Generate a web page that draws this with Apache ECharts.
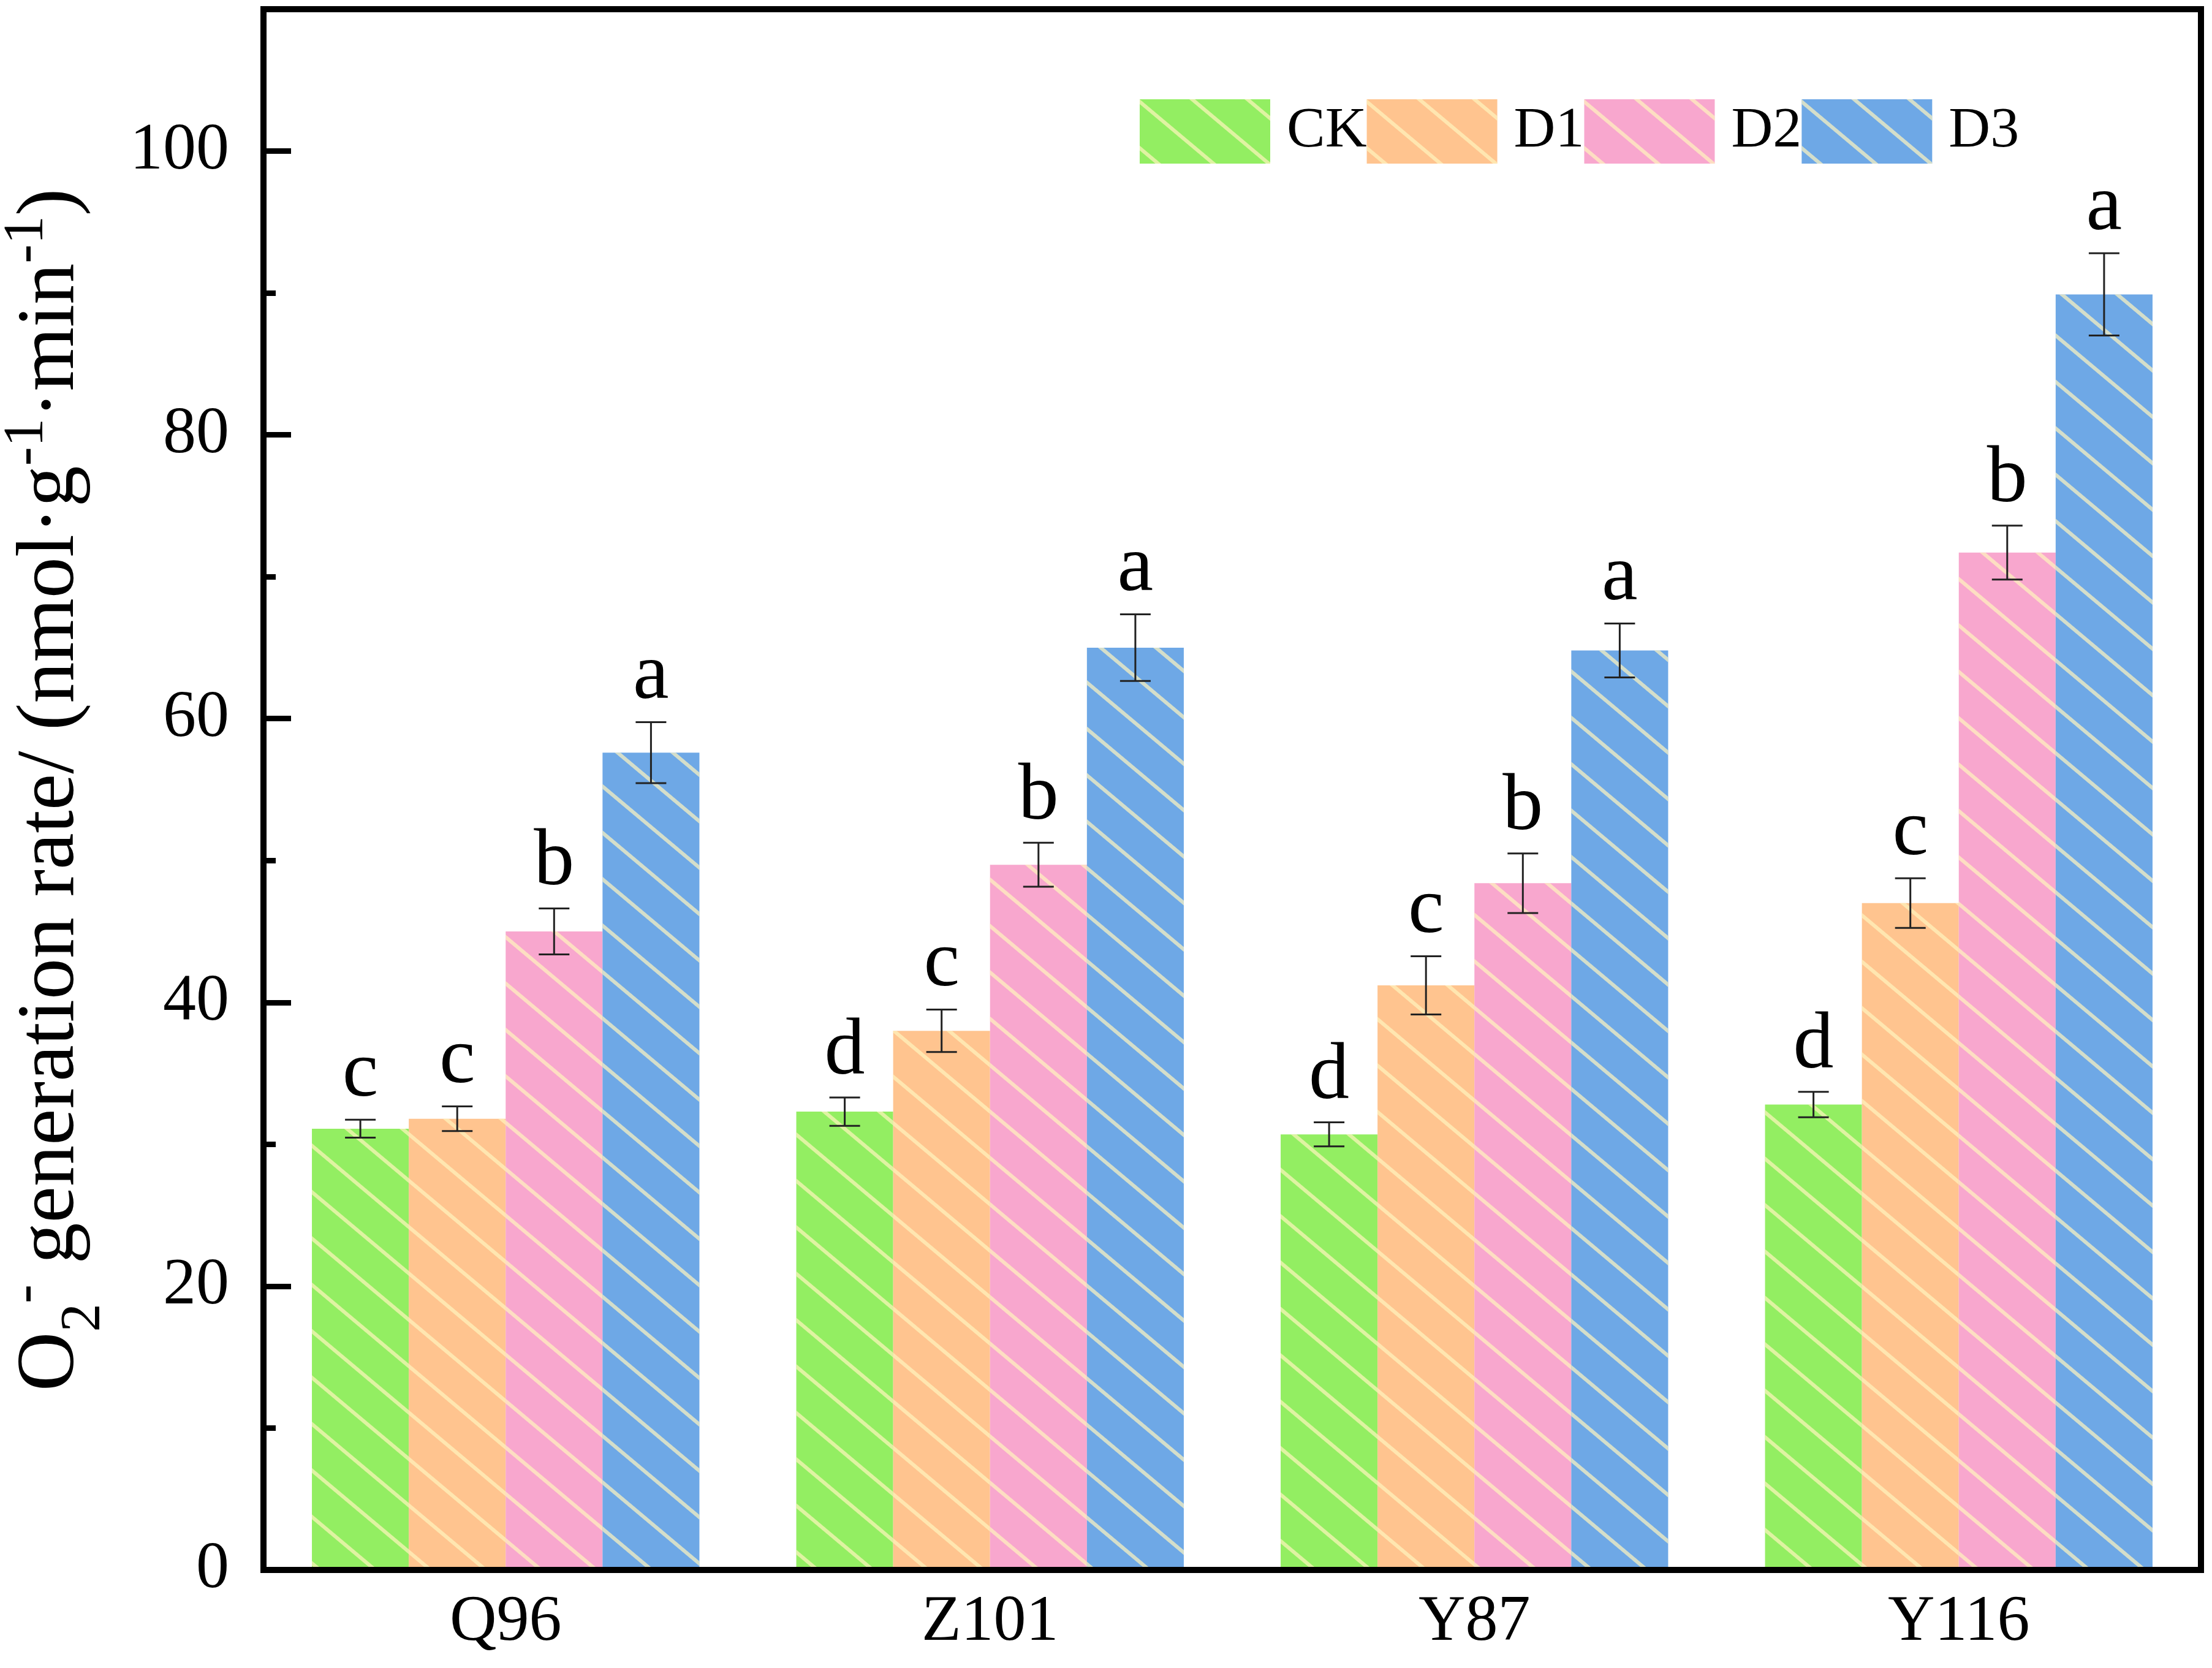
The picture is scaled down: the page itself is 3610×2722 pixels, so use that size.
<!DOCTYPE html>
<html>
<head>
<meta charset="utf-8">
<title>O2- generation rate</title>
<script src="https://cdn.jsdelivr.net/npm/echarts@6/dist/echarts.min.js"></script>
<style>
	html, body { margin: 0; padding: 0; background: #fff; }
	#chart { width: 3610px; height: 2722px; }
</style>
</head>
<body>
<div id="chart"></div>
<script>
// 品种 / 处理
var categories = ['Q96', 'Z101', 'Y87', 'Y116'];
var treatments = ['CK', 'D1', 'D2', 'D3'];

// 均值 (每个处理一行, 顺序同 categories)
var valCK = [31.1, 32.3, 30.7, 32.8];
var valD1 = [31.8, 38.0, 41.2, 47.0];
var valD2 = [45.0, 49.7, 48.4, 71.7];
var valD3 = [57.6, 65.0, 64.8, 89.9];

// 标准误
var errCK = [0.63, 1.0, 0.85, 0.9];
var errD1 = [0.87, 1.5, 2.05, 1.75];
var errD2 = [1.62, 1.55, 2.1, 1.9];
var errD3 = [2.15, 2.35, 1.9, 2.9];

// 显著性字母
var sigCK = ['c', 'd', 'd', 'd'];
var sigD1 = ['c', 'c', 'c', 'c'];
var sigD2 = ['b', 'b', 'b', 'b'];
var sigD3 = ['a', 'a', 'a', 'a'];

var yTicks = [0, 20, 40, 60, 80, 100];

$chart();

function $chart() {
	'use strict';

	var vals = [valCK, valD1, valD2, valD3],
		errs = [errCK, errD1, errD2, errD3],
		sigs = [sigCK, sigD1, sigD2, sigD3],
		colors = ['#93EE62', '#FFC48F', '#F8A7CE', '#6EA8E6'],
		font = 'Liberation Serif';

	// 斜线填充 "\\"
	var decal = {
		symbol: 'rect',
		symbolSize: 1,
		dashArrayX: [1, 0],
		dashArrayY: [6, 52],
		rotation: 40 * Math.PI / 180,
		color: 'rgba(255,245,190,0.7)'
	};

	var series = treatments.map(function(name, s) {
		return {
			name: name,
			type: 'bar',
			data: vals[s],
			barGap: '0%',
			barCategoryGap: '20%',
			itemStyle: { color: colors[s], decal: decal }
		};
	});

	// 误差线 + 字母
	var errData = [];
	treatments.forEach(function(name, s) {
		categories.forEach(function(c, i) {
			errData.push([i, s, vals[s][i], errs[s][i]]);
		});
	});

	series.push({
		type: 'custom',
		z: 5,
		data: errData,
		encode: { x: 0, y: 2 },
		renderItem: function(params, api) {
			var cat = api.value(0), s = api.value(1),
				v = api.value(2), e = api.value(3);
			var band = api.size([1, 0])[0],
				bw = band * 0.8 / 4,
				cx = api.coord([cat, 0])[0] - band * 0.4 + bw * (s + 0.5),
				yt = api.coord([cat, v + e])[1],
				yb = api.coord([cat, v - e])[1],
				cap = 25,
				ls = { stroke: '#222', lineWidth: 3 };
			return {
				type: 'group',
				children: [
					{ type: 'line', shape: { x1: cx, y1: yt, x2: cx, y2: yb }, style: ls },
					{ type: 'line', shape: { x1: cx - cap, y1: yt, x2: cx + cap, y2: yt }, style: ls },
					{ type: 'line', shape: { x1: cx - cap, y1: yb, x2: cx + cap, y2: yb }, style: ls },
					{
						type: 'text',
						x: cx,
						y: yt - 8,
						style: {
							text: sigs[s][cat],
							fontFamily: font,
							fontSize: 132,
							fill: '#000',
							align: 'center',
							verticalAlign: 'bottom'
						}
					}
				]
			};
		}
	});

	var chart = echarts.init(document.getElementById('chart'), null, { renderer: 'canvas' });

	chart.setOption({
		animation: false,
		backgroundColor: '#fff',
		textStyle: { fontFamily: font, color: '#000' },
		grid: {
			left: 430, right: 18, top: 15, bottom: 160,
			show: true,
			borderColor: '#000',
			borderWidth: 10,
			outerBoundsMode: 'none'
		},
		legend: {
			data: treatments,
			left: 1855,
			top: 157,
			icon: 'rect',
			itemWidth: 213,
			itemHeight: 105,
			itemGap: 0,
			textStyle: { fontFamily: font, fontSize: 94, color: '#000', padding: [0, 0, 0, 22] }
		},
		xAxis: {
			type: 'category',
			data: categories,
			z: 10,
			axisLine: { lineStyle: { color: '#000', width: 10 } },
			axisTick: { show: false },
			axisLabel: { fontFamily: font, fontSize: 106, color: '#000', margin: 33 }
		},
		yAxis: [{
			type: 'value',
			min: yTicks[0],
			max: 110,
			interval: yTicks[1] - yTicks[0],
			splitLine: { show: false },
			axisLine: { show: true, lineStyle: { color: '#000', width: 10 } },
			axisTick: { show: true, inside: true, length: 45, lineStyle: { color: '#000', width: 9 } },
			axisLabel: {
				fontFamily: font, fontSize: 108, color: '#000', margin: 56,
				showMaxLabel: false,
				formatter: function(v) { return yTicks.indexOf(v) >= 0 ? String(v) : ''; }
			}
		}, {
			// 次刻度
			type: 'value',
			position: 'left',
			min: 0,
			max: 110,
			interval: 10,
			splitLine: { show: false },
			axisLine: { show: false },
			axisTick: { show: true, inside: true, length: 20, lineStyle: { color: '#000', width: 9 } },
			axisLabel: { show: false }
		}],
		graphic: [{
			type: 'text',
			x: 84,
			y: 1289,
			rotation: Math.PI / 2,
			style: {
				text: '{m|O}{sub|2}{sup|-}{m| generation rate/ (nmol·g}{sup|-1}{m|·min}{sup|-1}{m|)}',
				align: 'center',
				verticalAlign: 'middle',
				fill: '#000',
				rich: {
					m: { fontFamily: font, fontSize: 134, fill: '#000' },
					sub: { fontFamily: font, fontSize: 93, fill: '#000', padding: [108, 0, 0, 0] },
					sup: { fontFamily: font, fontSize: 93, fill: '#000', padding: [0, 0, 78, 0] }
				}
			}
		}],
		series: series
	});
}
</script>
</body>
</html>
